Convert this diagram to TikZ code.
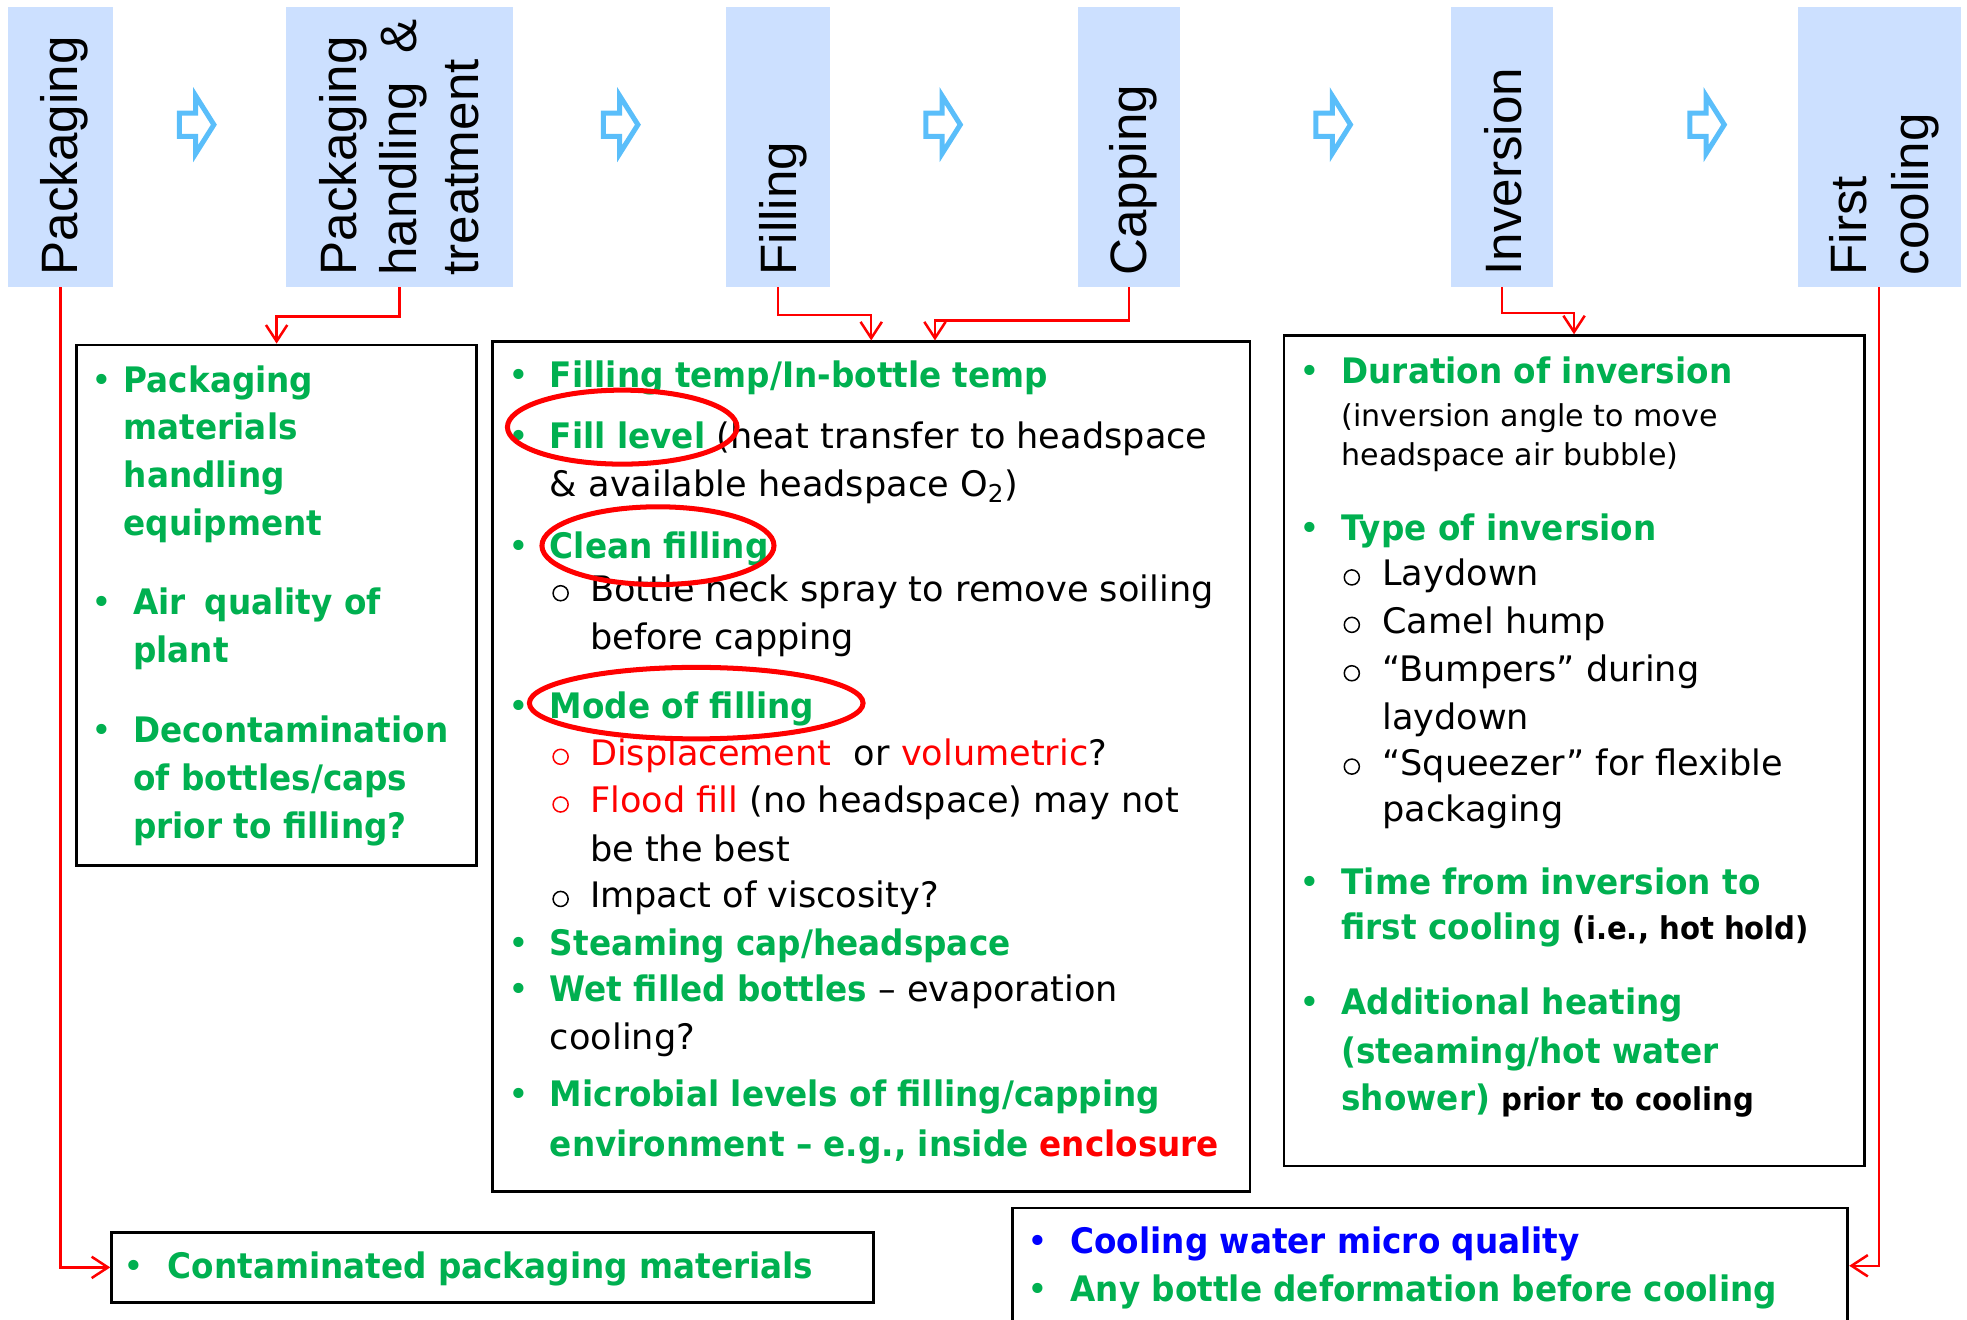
\documentclass[tikz,border=0pt]{standalone}
\usepackage{fontspec}
\setmainfont{DejaVu Sans}
\newfontfamily\gfont{DejaVu Sans}[FakeStretch=0.93]
\newfontfamily\hfont{Liberation Sans}
\usetikzlibrary{arrows.meta,shapes.geometric,calc}
\definecolor{grn}{RGB}{0,176,80}
\definecolor{rd}{RGB}{255,0,0}
\definecolor{bl}{RGB}{0,0,255}
\definecolor{hdrblue}{RGB}{204,224,255}
\definecolor{arrblue}{RGB}{90,190,250}
\newcommand\TG[1]{{\gfont\bfseries\color{grn}#1}}
\newcommand\TB[1]{{\gfont\bfseries\color{bl}#1}}
\newcommand\TRB[1]{{\gfont\bfseries\color{rd}#1}}
\newcommand\TR[1]{{\color{rd}#1}}
\newcommand\TKB[1]{{\gfont\bfseries\fontsize{12.5}{15}\selectfont #1}}
\tikzset{
  txt/.style={anchor=base west, inner sep=0pt, font=\fontsize{14}{17}\selectfont},
  sml/.style={anchor=base west, inner sep=0pt, font=\fontsize{12}{14}\selectfont},
  blt/.style={anchor=base, inner sep=0pt, font=\fontsize{14}{17}\selectfont},
  subb/.style={circle, draw, line width=0.6pt, inner sep=0pt, minimum size=6pt},
  hdr/.style={rectangle, fill=hdrblue, draw=none, inner sep=0pt},
  hdtxt/.style={rotate=90, anchor=base west, inner sep=0pt, font=\hfont\fontsize{20.4}{24}\selectfont},
  cbox/.style={rectangle, draw=black, line width=1.1pt, inner sep=0pt},
  redarr/.style={draw=rd, line width=1pt, -{Straight Barb[length=6.5pt,width=8.5pt]}},
  ring/.style={ellipse, draw=rd, line width=2pt, inner sep=0pt},
  barrow/.style={draw=arrblue, line width=2pt, miter limit=10},
  procarrow/.pic={\draw[barrow] (0,-9.3) -- (13,-9.3) -- (13,-23) -- (27.5,0) -- (13,23) -- (13,9.3) -- (0,9.3) -- cycle;}
}
\begin{document}
\begin{tikzpicture}[x=0.5pt,y=-0.5pt]
\useasboundingbox (0,0) rectangle (1568,1052);
% header boxes
\node[hdr, minimum width=41.7pt, minimum height=111.6pt] (h1) at (48.1,116.9) {};
\node[hdr, minimum width=90.35pt, minimum height=111.6pt] (h2) at (318.35,116.9) {};
\node[hdr, minimum width=41.25pt, minimum height=111.6pt] (h3) at (620.25,116.9) {};
\node[hdr, minimum width=41pt, minimum height=111.6pt] (h4) at (900,116.9) {};
\node[hdr, minimum width=40.5pt, minimum height=111.6pt] (h5) at (1197.5,116.9) {};
\node[hdr, minimum width=65pt, minimum height=111.6pt] (h6) at (1498,116.9) {};
\node[hdtxt] (h1t) at (61.6,220) {Packaging};
\node[hdtxt] (h2a) at (283.8,220) {Packaging};
\node[hdtxt] (h2b) at (332.2,220) {handling \ \&};
\node[hdtxt] (h2c) at (381.3,220) {treatment};
\node[hdtxt] (h3t) at (635,220) {Filling};
\node[hdtxt] (h4t) at (913.6,220) {Capping};
\node[hdtxt] (h5t) at (1213,220) {Inversion};
\node[hdtxt] (h6a) at (1488,220) {First};
\node[hdtxt] (h6b) at (1537,220) {cooling};
% process arrows
\pic at (143,99.4) {procarrow};
\pic at (481,99.4) {procarrow};
\pic at (738,99.4) {procarrow};
\pic at (1049,99.4) {procarrow};
\pic at (1347,99.4) {procarrow};
% content boxes
\node[cbox, minimum width=159.5pt, minimum height=207.5pt] (b1) at (220.5,482.5) {};
\node[cbox, minimum width=302pt, minimum height=338.75pt] (b2) at (694.5,611.25) {};
\node[cbox, minimum width=231.25pt, minimum height=330.95pt] (b3) at (1254.75,598.55) {};
\node[cbox, minimum width=303.75pt, minimum height=27.7pt] (b4) at (392.75,1010.3) {};
\node[cbox, minimum width=333pt, minimum height=46pt] (b5) at (1140,1009) {};
% connectors
\coordinate (b2cap) at ($(b2.north)+(50.8,0)$);
\draw[redarr] (h1.south) |- (b4.west);
\draw[redarr] (h2.south) -- ++(0,23.4) -| (b1.north);
\draw[redarr] (h3.south) -- ++(0,22.1) -| (b2.north);
\draw[redarr] (h4.south) -- ++(0,26.5) -| (b2cap);
\draw[redarr] (h5.south) -- ++(0,20.7) -| (b3.north);
\draw[redarr] (h6.south) |- (b5.east);
% left box
\node[blt, text=grn] (lb1) at (81,312.6) {•};
\node[txt] (l1) at (98.3,312.6) {\TG{Packaging}};
\node[txt] (l2) at (98.3,350.6) {\TG{materials}};
\node[txt] (l3) at (98.3,388.8) {\TG{handling}};
\node[txt] (l4) at (98.3,426.6) {\TG{equipment}};
\node[blt, text=grn] (lb2) at (81,490.2) {•};
\node[txt] (l5) at (105.8,490.2) {\TG{Air\hspace{3pt} quality of}};
\node[txt] (l6) at (105.8,528.3) {\TG{plant}};
\node[blt, text=grn] (lb3) at (81,591.6) {•};
\node[txt] (l7) at (105.8,591.6) {\TG{Decontamination}};
\node[txt] (l8) at (105.8,630) {\TG{of bottles/caps}};
\node[txt] (l9) at (105.8,668.5) {\TG{prior to filling?}};
% middle box
\node[blt, text=grn] (mb1) at (413.6,308.6) {•};
\node[txt] (m1) at (438,308.6) {\TG{Filling temp/In-bottle temp}};
\node[blt, text=grn] (mb2) at (413.6,357.4) {•};
\node[txt] (m2) at (438,357.4) {\TG{Fill level} (heat transfer to headspace};
\node[txt] (m3) at (438,395.9) {\& available headspace O\textsubscript{2})};
\node[blt, text=grn] (mb3) at (413.6,445) {•};
\node[txt] (m4) at (438,445) {\TG{Clean filling}};
\node[subb] (ms1) at (446.9,472.9) {};
\node[txt] (m5) at (470,479.6) {Bottle neck spray to remove soiling};
\node[txt] (m6) at (470,518) {before capping};
\node[blt, text=grn] (mb4) at (413.6,572.5) {•};
\node[txt] (m7) at (438,572.5) {\TG{Mode of filling}};
\node[subb, draw=rd] (ms2) at (446.9,603.3) {};
\node[txt] (m8) at (470,610) {\TR{Displacement} \ or \TR{volumetric}?};
\node[subb, draw=rd] (ms3) at (446.9,641.3) {};
\node[txt] (m9) at (470,648) {\TR{Flood fill} (no headspace) may not};
\node[txt] (m10) at (470,686.9) {be the best};
\node[subb] (ms4) at (446.9,716.6) {};
\node[txt] (m11) at (470,723.3) {Impact of viscosity?};
\node[blt, text=grn] (mb5) at (413.6,761.3) {•};
\node[txt] (m12) at (438,761.3) {\TG{Steaming cap/headspace}};
\node[blt, text=grn] (mb6) at (413.6,798.5) {•};
\node[txt] (m13) at (438,798.5) {\TG{Wet filled bottles} – evaporation};
\node[txt] (m14) at (438,837) {cooling?};
\node[blt, text=grn] (mb7) at (413.6,882.2) {•};
\node[txt] (m15) at (438,882.2) {\TG{Microbial levels of filling/capping}};
\node[txt] (m16) at (438,922) {\TG{environment – e.g., inside} \TRB{enclosure}};
% rings
\node[ring, minimum width=91.5pt, minimum height=29.5pt] (e1) at (496,340.5) {};
\node[ring, minimum width=92.5pt, minimum height=31pt] (e2) at (524.5,435) {};
\node[ring, minimum width=133pt, minimum height=28.5pt] (e3) at (555,560.5) {};
% right box
\node[blt, text=grn] (rb1) at (1043.8,305.6) {•};
\node[txt] (r1) at (1069,305.6) {\TG{Duration of inversion}};
\node[sml] (r2) at (1069,339.6) {(inversion angle to move};
\node[sml] (r3) at (1069,370.7) {headspace air bubble)};
\node[blt, text=grn] (rb2) at (1043.8,430.5) {•};
\node[txt] (r4) at (1069,430.5) {\TG{Type of inversion}};
\node[subb] (rs1) at (1077.6,460.3) {};
\node[txt] (r5) at (1101.5,467) {Laydown};
\node[subb] (rs2) at (1077.6,498.1) {};
\node[txt] (r6) at (1101.5,504.8) {Camel hump};
\node[subb] (rs3) at (1077.6,536.7) {};
\node[txt] (r7) at (1101.5,543.4) {“Bumpers” during};
\node[txt] (r8) at (1101.5,581.4) {laydown};
\node[subb] (rs4) at (1077.6,611.1) {};
\node[txt] (r9) at (1101.5,617.8) {“Squeezer” for flexible};
\node[txt] (r10) at (1101.5,655) {packaging};
\node[blt, text=grn] (rb3) at (1043.8,713.4) {•};
\node[txt] (r11) at (1069,713.4) {\TG{Time from inversion to}};
\node[txt] (r12) at (1069,749.3) {\TG{first cooling} \TKB{(i.e., hot hold)}};
\node[blt, text=grn] (rb4) at (1043.8,809) {•};
\node[txt] (r13) at (1069,809) {\TG{Additional heating}};
\node[txt] (r14) at (1069,847.6) {\TG{(steaming/hot water}};
\node[txt] (r15) at (1069,885.4) {\TG{shower)} \TKB{prior to cooling}};
% bottom boxes
\node[blt, text=grn] (cb1) at (106.7,1019) {•};
\node[txt] (c1) at (133.3,1019) {\TG{Contaminated packaging materials}};
\node[blt, text=bl] (db1) at (827.4,999) {•};
\node[txt] (d1) at (853,999) {\TB{Cooling water micro quality}};
\node[blt, text=grn] (db2) at (827.4,1037.6) {•};
\node[txt] (d2) at (853,1037.6) {\TG{Any bottle deformation before cooling}};
\end{tikzpicture}
\end{document}
